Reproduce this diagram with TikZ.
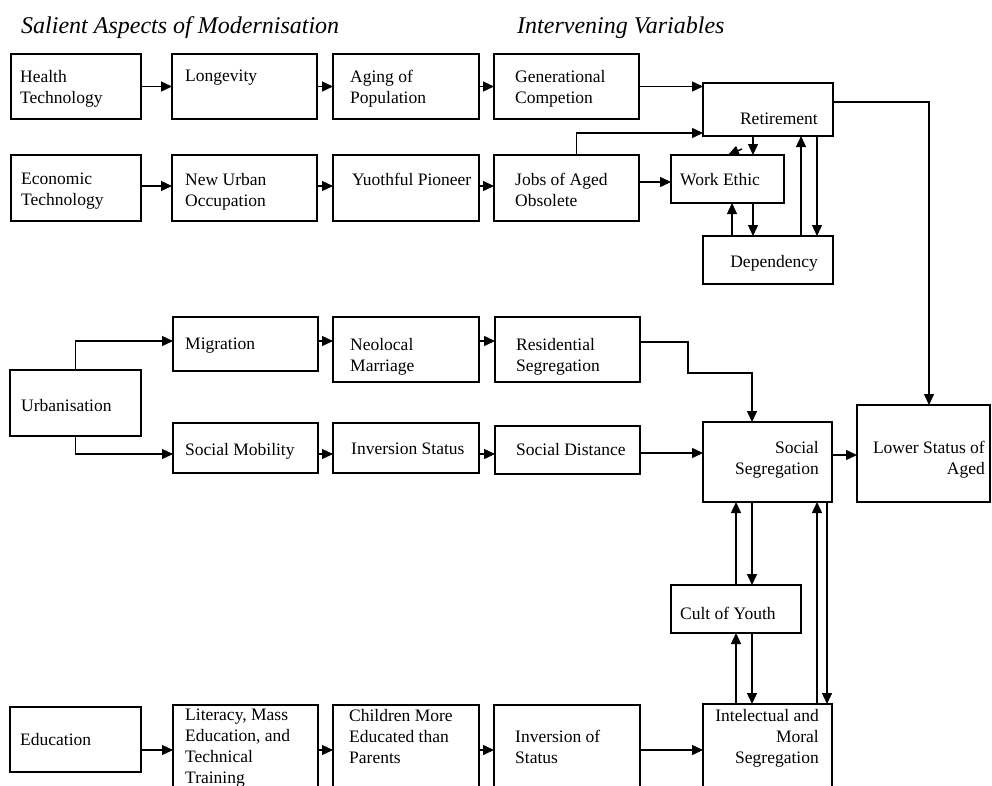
\documentclass[tikz,border=0pt]{standalone}
\usepackage{fontspec}
\setmainfont{Liberation Serif}
\usetikzlibrary{arrows.meta}

\tikzset{
  box/.style={draw, line width=1.4pt, anchor=north west, inner sep=0pt, outer sep=0pt},
  lbl/.style={anchor=north west, inner sep=0pt, align=left, font=\fontsize{17.5}{21}\selectfont},
  rlbl/.style={lbl, anchor=north east, align=right},
  hdr/.style={anchor=base west, inner sep=0pt, font=\fontsize{24}{28}\selectfont\itshape},
  arr/.style={line width=1.4pt, -{Triangle[length=11pt,width=10pt]}},
}

\begin{document}
\begin{tikzpicture}[x=1pt, y=-1pt]
	\clip (0,0) rectangle (992,785);

	\node[hdr] (h1) at (21,33) {Salient Aspects of Modernisation};
	\node[hdr] (h2) at (517,33) {Intervening Variables};

	% health row
	\node[box, minimum width=130, minimum height=65] (ht) at (11,54) {};
	\node[lbl] (ht-t) at (20,70) {Health\\Technology};
	\node[box, minimum width=145, minimum height=65] (lon) at (172,54) {};
	\node[lbl] (lon-t) at (185,70) {Longevity};
	\node[box, minimum width=146, minimum height=65] (agp) at (333,54) {};
	\node[lbl] (agp-t) at (350,70) {Aging of\\Population};
	\node[box, minimum width=145, minimum height=65] (gen) at (494,54) {};
	\node[lbl] (gen-t) at (515,70) {Generational\\Competion};

	% economy row
	\node[box, minimum width=130, minimum height=66] (ect) at (11,155) {};
	\node[lbl] (ect-t) at (21,173) {Economic\\Technology};
	\node[box, minimum width=145, minimum height=66] (nuo) at (172,155) {};
	\node[lbl] (nuo-t) at (185,173) {New Urban\\Occupation};
	\node[box, minimum width=146, minimum height=66] (yp) at (333,155) {};
	\node[lbl] (yp-t) at (352,173) {Yuothful Pioneer};
	\node[box, minimum width=145, minimum height=66] (job) at (494,155) {};
	\node[lbl] (job-t) at (515,173) {Jobs of Aged\\Obsolete};

	% retirement cluster
	\node[box, minimum width=130, minimum height=53] (ret) at (703,83) {};
	\node[rlbl] (ret-t) at (818,113) {Retirement};
	\node[box, minimum width=113, minimum height=48] (we) at (671,155) {};
	\node[lbl] (we-t) at (680,173) {Work Ethic};
	\node[box, minimum width=130, minimum height=48] (dep) at (703,236) {};
	\node[rlbl] (dep-t) at (818,255) {Dependency};

	% urbanisation rows
	\node[box, minimum width=131, minimum height=66] (urb) at (10,370) {};
	\node[lbl] (urb-t) at (21,399) {Urbanisation};
	\node[box, minimum width=145, minimum height=54] (mig) at (173,317) {};
	\node[lbl] (mig-t) at (185,338) {Migration};
	\node[box, minimum width=146, minimum height=65] (neo) at (333,317) {};
	\node[lbl] (neo-t) at (350,338) {Neolocal\\Marriage};
	\node[box, minimum width=145, minimum height=65] (res) at (495,317) {};
	\node[lbl] (res-t) at (516,338) {Residential\\Segregation};
	\node[box, minimum width=145, minimum height=50] (smo) at (173,423) {};
	\node[lbl] (smo-t) at (185,443) {Social Mobility};
	\node[box, minimum width=146, minimum height=50] (ins) at (333,423) {};
	\node[lbl] (ins-t) at (351,443) {Inversion Status};
	\node[box, minimum width=145, minimum height=48] (sdi) at (495,426) {};
	\node[lbl] (sdi-t) at (516,443) {Social Distance};

	\node[box, minimum width=129, minimum height=80] (ss) at (703,422) {};
	\node[rlbl] (ss-t) at (819,441) {Social\\Segregation};
	\node[box, minimum width=133, minimum height=97] (low) at (857,405) {};
	\node[rlbl] (low-t) at (985,441) {Lower Status of\\Aged};
	\node[box, minimum width=130, minimum height=48] (cy) at (671,585) {};
	\node[lbl] (cy-t) at (680,607) {Cult of Youth};

	% education row
	\node[box, minimum width=131, minimum height=65] (edu) at (10,707) {};
	\node[lbl] (edu-t) at (20,733) {Education};
	\node[box, minimum width=145, minimum height=95] (lit) at (173,705) {};
	\node[lbl] (lit-t) at (185,709) {Literacy, Mass\\Education, and\\Technical\\Training};
	\node[box, minimum width=146, minimum height=95] (chi) at (333,705) {};
	\node[lbl] (chi-t) at (349,709) {Children More\\Educated than\\Parents};
	\node[box, minimum width=146, minimum height=95] (ivs) at (494,705) {};
	\node[lbl] (ivs-t) at (515,730) {Inversion of\\Status};
	\node[box, minimum width=129, minimum height=96] (ims) at (703,704) {};
	\node[rlbl] (ims-t) at (819,709) {Intelectual and\\Moral\\Segregation};

	% arrows, top
	\draw[arr] (ht.east) -- (lon.west);
	\draw[arr] (lon.east) -- (agp.west);
	\draw[arr] (agp.east) -- (gen.west);
	\draw[arr] (gen.east) -- (gen.east -| ret.west);
	\draw[arr] (ect.east |- 0,186) -- (nuo.west |- 0,186);
	\draw[arr] (nuo.east |- 0,186) -- (yp.west |- 0,186);
	\draw[arr] (yp.east |- 0,186) -- (job.west |- 0,186);
	\draw[arr] ([xshift=10pt]job.north) |- ([yshift=3pt]ret.south west);
	\draw[arr] (job.east |- 0,182) -- (we.west |- 0,182);
	\draw[arr] (753,0 |- ret.south) -- (753,0 |- we.north);
	\coordinate (kink) at (742,149);
	\draw[arr] (kink) -- (728,0 |- we.north);
	\draw[arr] (753,0 |- we.south) -- (753,0 |- dep.north);
	\draw[arr] (732,0 |- dep.north) -- (732,0 |- we.south);
	\draw[arr] (801,0 |- dep.north) -- (801,0 |- ret.south);
	\draw[arr] (817,0 |- ret.south) -- (817,0 |- dep.north);
	\draw[arr] (ret.east |- 0,102) -| (929,0 |- low.north);

	% arrows, middle
	\draw[arr] (urb.north) |- (mig.west |- 0,341);
	\draw[arr] (urb.south) |- (smo.west |- 0,454);
	\draw[arr] (mig.east |- 0,341) -- (neo.west |- 0,341);
	\draw[arr] (neo.east |- 0,341) -- (res.west |- 0,341);
	\draw[arr] (res.east |- 0,342) -| (688,373) -| (752,0 |- ss.north);
	\draw[arr] (smo.east |- 0,454) -- (ins.west |- 0,454);
	\draw[arr] (ins.east |- 0,454) -- (sdi.west |- 0,454);
	\draw[arr] (sdi.east |- 0,453) -- (ss.west |- 0,453);
	\draw[arr] (ss.east |- 0,455) -- (low.west |- 0,455);

	\draw[arr] (736,0 |- cy.north) -- (736,0 |- ss.south);
	\draw[arr] (752,0 |- ss.south) -- (752,0 |- cy.north);
	\draw[arr] (736,0 |- ims.north) -- (736,0 |- cy.south);
	\draw[arr] (752,0 |- cy.south) -- (752,0 |- ims.north);
	\draw[arr] (817,0 |- ims.north) -- (817,0 |- ss.south);
	\draw[arr] (827,0 |- ss.south) -- (827,0 |- ims.north);

	% arrows, bottom
	\draw[arr] (edu.east |- 0,750) -- (lit.west |- 0,750);
	\draw[arr] (lit.east |- 0,750) -- (chi.west |- 0,750);
	\draw[arr] (chi.east |- 0,750) -- (ivs.west |- 0,750);
	\draw[arr] (ivs.east |- 0,750) -- (ims.west |- 0,750);
\end{tikzpicture}
\end{document}
